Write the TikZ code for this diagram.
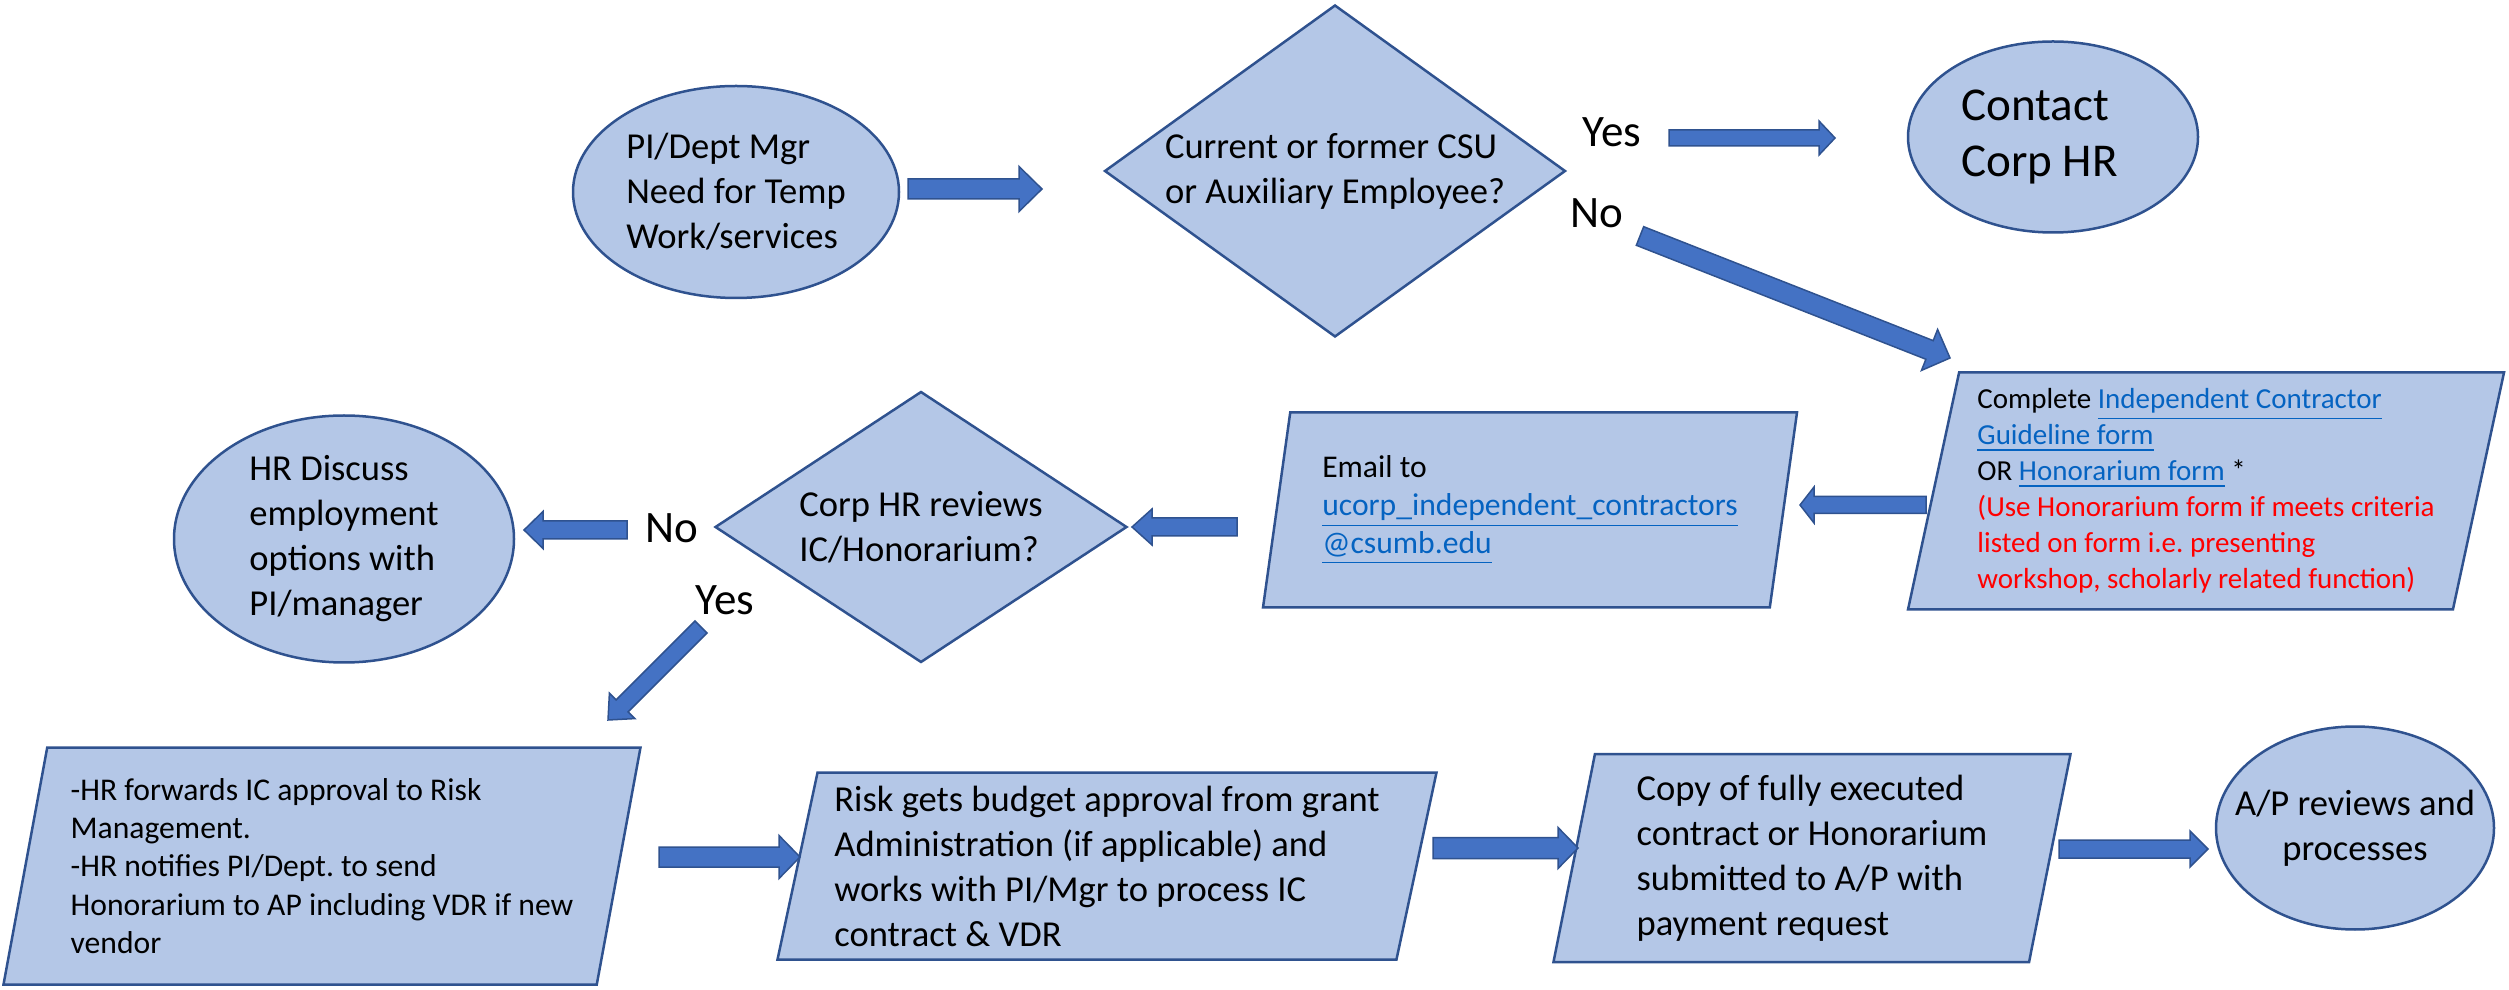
\documentclass[tikz,border=0pt]{standalone}
\usepackage{fontspec}
\setmainfont{Carlito}
\usepackage{tikz}
\usetikzlibrary{positioning, arrows.meta, shapes.geometric, calc}

\definecolor{shapefill}{HTML}{B4C7E7}
\definecolor{shapeline}{HTML}{2F528F}
\definecolor{arrowfill}{HTML}{4472C4}
\definecolor{linkblue}{HTML}{0563C1}
\definecolor{notered}{HTML}{FF0000}

\newcommand{\lnk}[1]{\textcolor{linkblue}{\underline{#1}}}
\frenchspacing

\begin{document}
\begin{tikzpicture}[
        x=0.1mm, y=-0.1mm,
        every node/.style={font=\fontsize{10.4pt}{12.8pt}\selectfont, inner sep=0pt},
        terminal/.style={ellipse, draw=shapeline, fill=shapefill, line width=0.25mm, align=left},
        decision/.style={diamond, draw=shapeline, fill=shapefill, line width=0.25mm, align=left},
        io/.style={trapezium, trapezium left angle=76, trapezium right angle=104, trapezium stretches body, draw=shapeline, fill=shapefill, line width=0.25mm, align=left},
        answer/.style={font=\fontsize{12.8pt}{15pt}\selectfont, anchor=base west},
        smalltext/.style={font=\fontsize{9pt}{10.9pt}\selectfont},
        bshaft/.store in=\bshaft, bhead/.store in=\bhead, blen/.store in=\blen,
        bshaft=2mm, bhead=4.4mm, blen=2.2mm,
        flow/.style={draw=shapeline, fill=arrowfill, line width=0.15mm, line join=miter,
            to path={
                ($(\tikztostart)!\bshaft/2!90:(\tikztotarget)$)
                -- ($(\tikztotarget)!\blen!(\tikztostart)!\bshaft/2!-90:(\tikztostart)$)
                -- ($(\tikztotarget)!\blen!(\tikztostart)!\bhead/2!-90:(\tikztostart)$)
                -- (\tikztotarget)
                -- ($(\tikztotarget)!\blen!(\tikztostart)!\bhead/2!90:(\tikztostart)$)
                -- ($(\tikztotarget)!\blen!(\tikztostart)!\bshaft/2!90:(\tikztostart)$)
                -- ($(\tikztostart)!\bshaft/2!-90:(\tikztotarget)$)
                -- cycle}}
    ]
        \useasboundingbox (0,0) rectangle (2509,990);
        % Top row
        \node[terminal, minimum width=32.6mm, minimum height=21.2mm] (need) at (736,192) {PI/Dept Mgr\\Need for Temp\\Work/services};
        \node[decision, aspect=1.39, minimum width=46.1mm, minimum height=33.2mm] (employee) at (1335,171) {Current or former CSU\\or Auxiliary Employee?};
        \node[answer] (yesemp) at (1582,147) {Yes};
        \node[answer] (noemp) at (1570,228) {No};
        \node[terminal, minimum width=29mm, minimum height=19.1mm, font=\fontsize{13.4pt}{16.2pt}\selectfont] (contacthr) at (2053,137) {Contact\hspace*{3.6mm}\\Corp HR};
        % Middle row
        \node[io, minimum width=59.6mm, minimum height=23.7mm, font=\fontsize{8.25pt}{10.25pt}\selectfont] (icform) at (2206,491) {Complete \lnk{Independent Contractor}\\\lnk{Guideline form}\\OR \lnk{Honorarium form} *\\\textcolor{notered}{(Use Honorarium form if meets criteria}\\\textcolor{notered}{listed on form i.e. presenting}\\\textcolor{notered}{workshop, scholarly related function)}};
        \node[io, smalltext, minimum width=53.4mm, minimum height=19.5mm] (email) at (1530,510) {Email to\\\lnk{ucorp\_independent\_contractors}\\\lnk{@csumb.edu}};
        \node[decision, aspect=1.52, minimum width=41.2mm, minimum height=27.1mm] (review) at (921,527) {Corp HR reviews\\IC/Honorarium?};
        \node[answer] (noreview) at (645,543) {No};
        \node[answer] (yesreview) at (695,615) {Yes};
        \node[terminal, minimum width=34mm, minimum height=24.7mm] (discuss) at (344,539) {HR Discuss\\employment\\options with\\PI/manager};
        % Bottom row
        \node[io, smalltext, minimum width=63.7mm, minimum height=23.7mm] (forward) at (322,866) {-HR forwards IC approval to Risk\\Management.\\-HR notifies PI/Dept. to send\\Honorarium to AP including VDR if new\\vendor};
        \node[io, minimum width=65.9mm, minimum height=18.7mm] (budget) at (1107,866) {Risk gets budget approval from grant\\Administration (if applicable) and\\works with PI/Mgr to process IC\\contract \& VDR};
        \node[io, minimum width=51.7mm, minimum height=20.8mm] (execute) at (1812,858) {Copy of fully executed\\contract or Honorarium\\submitted to A/P with\\payment request};
        \node[terminal, align=center, inner xsep=-3.5mm, minimum width=27.8mm, minimum height=20.3mm] (payment) at (2355,828) {A/P reviews and\\processes};
        % Arrow ends
        \coordinate (need-out) at (908,189);
        \coordinate (employee-in) at (1042,189);
        \coordinate (yes-out) at (1669,138);
        \coordinate (contact-in) at (1835,138);
        \coordinate (no-out) at (1640,236);
        \coordinate (icform-in) at (1950,358);
        \coordinate (icform-out) at (1926,505);
        \coordinate (email-in) at (1800,505);
        \coordinate (email-out) at (1237,527);
        \coordinate (review-in) at (1132,527);
        \coordinate (review-no) at (627,530);
        \coordinate (discuss-in) at (524,530);
        \coordinate (review-yes) at (701,627);
        \coordinate (forward-in) at (608,720);
        \coordinate (forward-out) at (659,857);
        \coordinate (budget-in) at (800,857);
        \coordinate (budget-out) at (1433,848);
        \coordinate (execute-in) at (1578,848);
        \coordinate (execute-out) at (2059,849);
        \coordinate (payment-in) at (2208,849);
        % Block arrows
        \draw[flow, bshaft=2mm, bhead=4.5mm, blen=2.3mm] (need-out) to (employee-in);
        \draw[flow, bshaft=1.6mm, bhead=3.4mm, blen=1.6mm] (yes-out) to (contact-in);
        \draw[flow, bshaft=2mm, bhead=4.4mm, blen=2.2mm] (no-out) to (icform-in);
        \draw[flow, bshaft=1.7mm, bhead=3.6mm, blen=1.4mm] (icform-out) to (email-in);
        \draw[flow, bshaft=1.8mm, bhead=3.6mm, blen=2mm] (email-out) to (review-in);
        \draw[flow, bshaft=1.8mm, bhead=3.7mm, blen=1.9mm] (review-no) to (discuss-in);
        \draw[flow, bshaft=1.7mm, bhead=3.6mm, blen=2mm] (review-yes) to (forward-in);
        \draw[flow, bshaft=2mm, bhead=4.3mm, blen=2.1mm] (forward-out) to (budget-in);
        \draw[flow, bshaft=2.1mm, bhead=4.1mm, blen=2mm] (budget-out) to (execute-in);
        \draw[flow, bshaft=1.8mm, bhead=3.6mm, blen=1.8mm] (execute-out) to (payment-in);
    \end{tikzpicture}
\end{document}
